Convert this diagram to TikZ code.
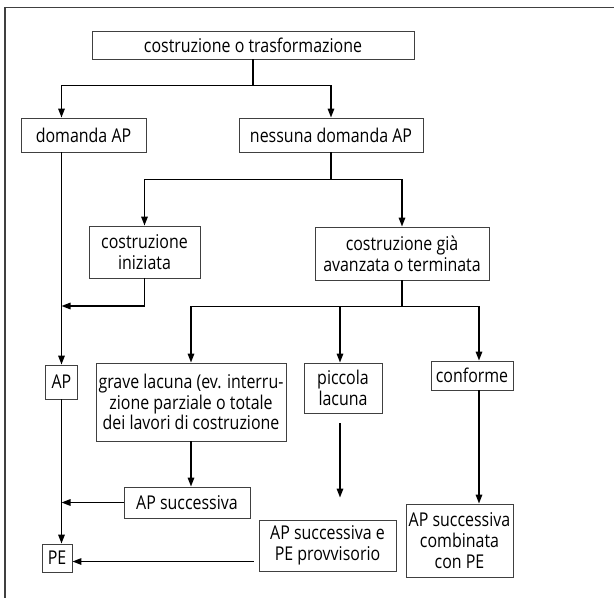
\documentclass[tikz,border=0pt]{standalone}
\usepackage{fontspec}
\setmainfont{Open Sans}[FakeStretch=0.84]
\usetikzlibrary{arrows.meta, positioning}

\begin{document}
\begin{tikzpicture}[x=1pt, y=-1pt,
    box/.style={draw=black!75, line width=0.9pt, inner sep=0pt, align=center,
                font=\fontsize{19}{20.7}\selectfont},
    arr/.style={line width=1.5pt, -{Triangle[length=9pt, width=6.5pt]}}]
    \useasboundingbox (0,0) rectangle (614,598);
    \draw[black!75, line width=1.8pt] (614,7.5) -- (5,7.5) -- (5,598);
    % boxes: name / x / y / width / height / text
    \foreach \n/\x/\y/\w/\h/\t in {
        top/253/45/322/28/{costruzione o trasformazione},
        dom/83.5/135/125/34/{domanda AP},
        ness/331/135/184/34/{nessuna domanda AP},
        iniz/144.5/252/111/52/{costruzione\\iniziata},
        gia/402/253.5/174/53/{costruzione già\\avanzata o terminata},
        AP/61.5/382/32/34/{AP},
        grave/191/402/190/78/{grave lacuna (ev. interru-\\zione parziale o totale\\dei lavori di costruzione},
        picc/343/388/78/50/{piccola\\lacuna},
        conf/472/375.5/82/29/{conforme},
        APs/187/502.5/126/31/{AP successiva},
        APsPE/327.5/545.5/137/51/{AP successiva e\\PE provvisorio},
        PE/57/558/30/28/{PE},
        comb/459.5/540.5/107/73/{AP successiva\\combinata\\con PE}} {
        \node[box, minimum width=\w pt, minimum height=\h pt] (\n) at (\x,\y) {\t};
    }
    \coordinate (m1) at (61.5,306);
    \coordinate (p1) at ([xshift=-3pt, yshift=-10pt]picc.south);
    \coordinate (q1) at ([yshift=-16pt]APsPE.west);
    \coordinate (c1) at ([xshift=7pt]conf.south);

    \draw[arr] (top.south) -- ++(0,26) -| (AP.north |- dom.north);
    \draw[arr] (top.south) -- ++(0,26) -| (ness.north);
    \draw[arr] (AP.north |- dom.south) -- (AP.north);
    \draw[arr] (ness.south) -- ++(0,27) -| (iniz.north);
    \draw[arr] (ness.south) -- ++(0,27) -| (gia.north);
    \draw[arr] (iniz.south) |- (m1);
    \foreach \t in {grave.north, p1 |- picc.north, c1 |- conf.north}
        \draw[arr] (gia.south) -- ++(0,26) -| (\t);
    \draw[arr] (grave.south) -- (grave.south |- APs.north);
    \draw[arr] (APs.west) -- (APs.west -| AP.south);
    \draw[arr] (AP.south) -- (AP.south |- PE.north);
    \draw[arr, shorten >=22pt] (p1) -- (p1 |- APsPE.north);
    \draw[arr, shorten <=5pt] (q1) -- (PE.east |- q1);
    \draw[arr] (c1) -- (c1 |- comb.north);
\end{tikzpicture}
\end{document}
